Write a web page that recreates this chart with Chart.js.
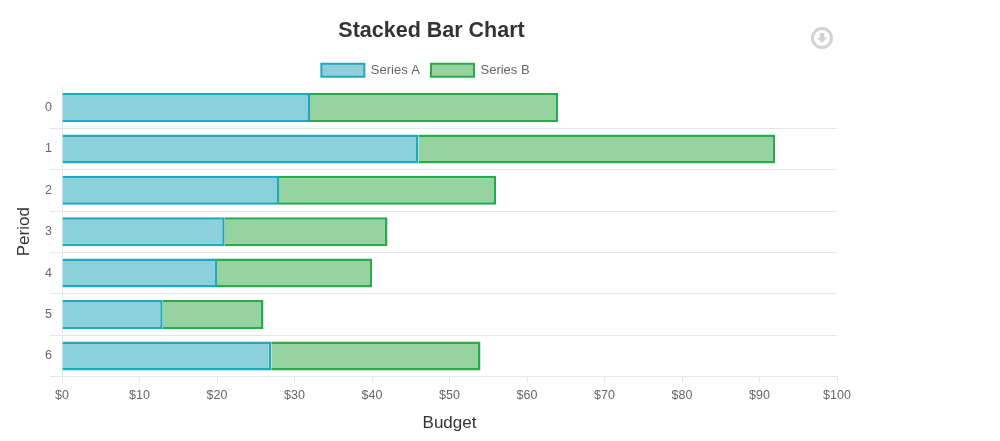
<!DOCTYPE html>
<html lang="en">
<head>
    <meta charset="UTF-8">
    <title>Stacked Bar Chart</title>
    <script src="https://cdn.jsdelivr.net/npm/chart.js"></script>
    <style>
        html, body { margin: 0; padding: 0; background: #fff; }
        #wrap { position: relative; width: 1000px; height: 441px; overflow: hidden; }
        #saveIcon { position: absolute; left: 810px; top: 26px; }
    </style>
</head>
<body>
    <div id="wrap">
        <canvas id="chart" width="1000" height="441"></canvas>
        <!-- download icon -->
        <svg id="saveIcon" width="24" height="24" viewBox="0 0 24 24">
            <circle cx="12" cy="12" r="9.5" fill="none" stroke="#d2d2d2" stroke-width="3"/>
            <path d="M9.8 7h4.4v4.6h3L12 17 6.8 11.6h3z" fill="#d2d2d2"/>
        </svg>
    </div>

    <script>
        const periods = ['0', '1', '2', '3', '4', '5', '6'];
        const seriesA = [32, 46, 28, 21, 20, 13, 27];
        const seriesB = [32, 46, 28, 21, 20, 13, 27];
        const budgetMax = 100;
        const budgetStep = 10;

        const fontName = '"Liberation Sans", Arial, sans-serif';

        const titleShift = {
            id: 'titleShift',
            afterLayout(chart) {
                // title sits a bit right of the legend centre in the original
                chart.titleBlock.left += 6;
                chart.titleBlock.right += 6;
            }
        };

        new Chart(document.getElementById('chart').getContext('2d'), {
            type: 'bar',
            plugins: [titleShift],
            data: {
                labels: periods,
                datasets: [
                    {
                        label: 'Series A',
                        data: seriesA,
                        backgroundColor: '#8bd0da',
                        borderColor: '#1fa8c0',
                        borderWidth: 2.5,
                        barPercentage: 0.7,
                        categoryPercentage: 1
                    },
                    {
                        label: 'Series B',
                        data: seriesB,
                        backgroundColor: '#95d3a0',
                        borderColor: '#2aaa4a',
                        borderWidth: 2.5,
                        barPercentage: 0.7,
                        categoryPercentage: 1
                    }
                ]
            },
            options: {
                indexAxis: 'y',
                responsive: false,
                animation: false,
                layout: { padding: { left: 14, right: 163, top: 18, bottom: 7 } },
                plugins: {
                    title: {
                        display: true,
                        text: 'Stacked Bar Chart',
                        color: '#333333',
                        font: { family: fontName, size: 21.5, weight: 'bold' },
                        padding: { top: 0, bottom: 9 }
                    },
                    legend: {
                        display: true,
                        labels: {
                            boxWidth: 43,
                            boxHeight: 13,
                            color: '#666666',
                            font: { family: fontName, size: 13 },
                            padding: 11,
                            generateLabels: chart => Chart.defaults.plugins.legend.labels.generateLabels(chart)
                                .map(item => ({ ...item, lineWidth: 2 }))
                        }
                    },
                    tooltip: { enabled: false }
                },
                scales: {
                    x: {
                        stacked: true,
                        min: 0,
                        max: budgetMax,
                        ticks: {
                            stepSize: budgetStep,
                            color: '#666666',
                            font: { family: fontName, size: 12.5 },
                            maxRotation: 0,
                            padding: 5,
                            callback: value => '$' + value
                        },
                        grid: {
                            drawOnChartArea: false,
                            drawTicks: true,
                            tickLength: 6,
                            color: '#e6e6e6'
                        },
                        border: { color: '#e6e6e6' },
                        title: {
                            display: true,
                            text: 'Budget',
                            color: '#333333',
                            font: { family: fontName, size: 17 },
                            padding: { top: 6, bottom: 0 }
                        }
                    },
                    y: {
                        stacked: true,
                        ticks: {
                            color: '#666666',
                            font: { family: fontName, size: 12.5 },
                            padding: -2
                        },
                        grid: {
                            offset: true,
                            tickLength: 12,
                            color: ctx => ctx.index === 0 ? 'rgba(0,0,0,0)' : '#e6e6e6'
                        },
                        border: { color: '#e6e6e6' },
                        title: {
                            display: true,
                            text: 'Period',
                            color: '#333333',
                            font: { family: fontName, size: 17 },
                            padding: { top: 0, bottom: 8 }
                        },
                        afterFit: scale => { scale.width = 48; }
                    }
                }
            }
        });
    </script>
</body>
</html>
